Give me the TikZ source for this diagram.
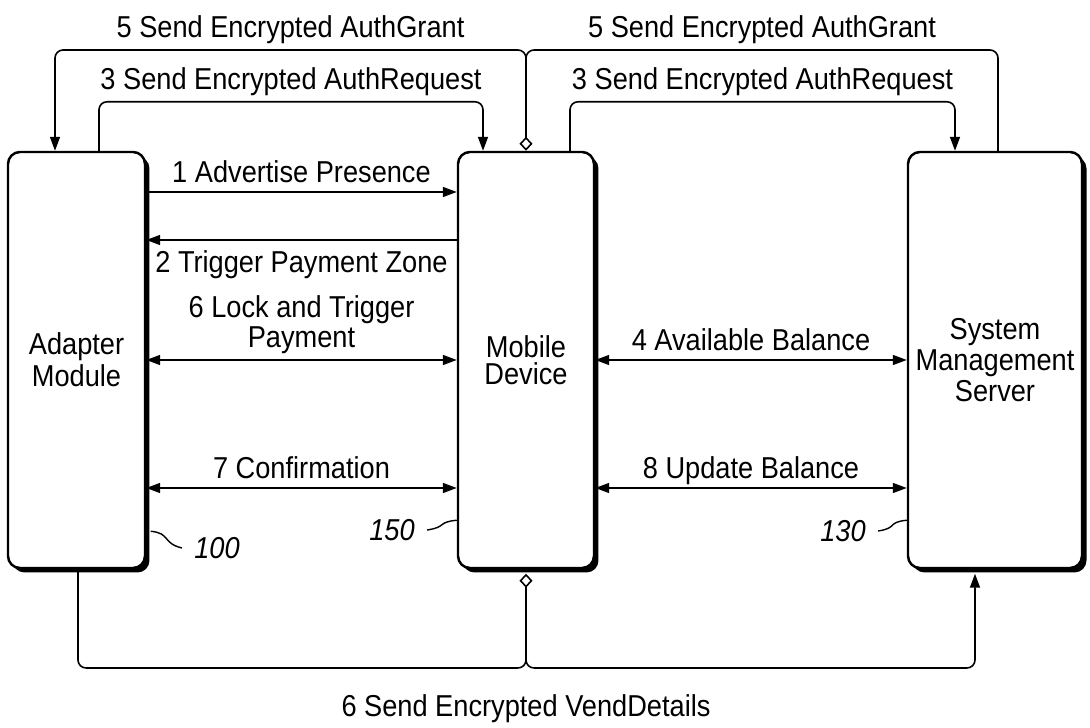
\documentclass[tikz,border=0pt]{standalone}
\usepackage{fontspec}
\setmainfont{Liberation Sans}[FakeStretch=0.9]
\usetikzlibrary{arrows.meta,shadows}

\begin{document}
\begin{tikzpicture}[
        unit/.style={rectangle, draw=black, line width=0.7pt, rounded corners=1.2mm, fill=white,
            align=center, inner sep=0pt, minimum height=41.6mm,
            drop shadow={shadow xshift=0.45mm, shadow yshift=-0.45mm, fill=black, opacity=1}},
        msg/.style={line width=0.45pt, rounded corners=0.8mm},
        lbl/.style={text height=1.55ex, text depth=0.3ex, inner ysep=0.3mm},
        toplbl/.style={lbl, inner ysep=0.6mm},
        tip/.style={-{Triangle[length=1.4mm,width=1mm]}},
        both/.style={{Triangle[length=1.4mm,width=1mm]}-{Triangle[length=1.4mm,width=1mm]}},
        src/.style={{Diamond[open,length=1.4mm,width=1.3mm]}-{Triangle[length=1.4mm,width=1mm]}},
        refnum/.style={font=\fontsize{8.6}{7.6}\selectfont\itshape},
        font=\fontsize{8.6}{7.6}\selectfont,
        ]
        \useasboundingbox (0,0) rectangle (10.9,-7.28);

        \node (adapter) at (0.765,-3.6) [unit, minimum width=13.7mm] {Adapter\\Module};
        \node (mobile) at (5.26,-3.6) [unit, minimum width=13.6mm] {Mobile\\Device};
        \node (server) at (9.95,-3.6) [unit, minimum width=17.4mm] {System\\Management\\Server};

        % adapter <-> mobile
        \draw[msg,tip] ([yshift=16.8mm]adapter.east) -- node[above,lbl] {1 Advertise Presence} ([yshift=16.8mm]mobile.west);
        \draw[msg,tip] ([yshift=12mm]mobile.west) -- node[below,lbl] {2 Trigger Payment Zone} ([yshift=12mm]adapter.east);
        \draw[msg,both] (adapter.east) -- node[above, align=center, inner ysep=0.5mm] {6 Lock and Trigger\\Payment} (mobile.west);
        \draw[msg,both] ([yshift=-12.8mm]adapter.east) -- node[above,lbl] {7 Confirmation} ([yshift=-12.8mm]mobile.west);

        % mobile <-> server
        \draw[msg,both] (mobile.east) -- node[above,lbl] {4 Available Balance} (server.west);
        \draw[msg,both] ([yshift=-12.8mm]mobile.east) -- node[above,lbl] {8 Update Balance} ([yshift=-12.8mm]server.west);

        % over the top
        \draw[msg,src] (mobile.north) -- (mobile.north |- 0,-0.5) -| node[pos=0.25, above, toplbl] {5 Send Encrypted AuthGrant} ([xshift=-2.15mm]adapter.north);
        \draw[msg] ([xshift=0.3mm]server.north) |- node[pos=0.75, above, toplbl] {5 Send Encrypted AuthGrant} (mobile.north |- 0,-0.5) -- (mobile.north |- 0,-0.65);
        \draw[msg,tip] ([xshift=2.25mm]adapter.north) -- ++(0,0.49) -| node[pos=0.25, above, toplbl] {3 Send Encrypted AuthRequest} ([xshift=-4.3mm]mobile.north);
        \draw[msg,tip] ([xshift=4.4mm]mobile.north) -- ++(0,0.49) -| node[pos=0.25, above, toplbl] {3 Send Encrypted AuthRequest} ([xshift=-4mm]server.north);

        % underneath
        \draw[msg] ([xshift=0.15mm]adapter.south) |- (mobile.south |- 0,-6.68) -- (mobile.south |- 0,-6.55);
        \draw[msg,src] ([yshift=-0.45mm]mobile.south) -- (mobile.south |- 0,-6.68) node[below=1.6mm, lbl] {6 Send Encrypted VendDetails} -| ([xshift=-2mm,yshift=-0.45mm]server.south);

        % reference numerals
        \node (ref100) at (2.17,-5.48) [refnum] {100};
        \node (ref150) at (3.92,-5.30) [refnum] {150};
        \node (ref130) at (8.43,-5.31) [refnum] {130};
        \draw[line width=0.4pt] ([xshift=0.45mm,yshift=3.8mm]adapter.south east) .. controls +(0.2,-0.02) and +(-0.2,0.05) .. (ref100.west);
        \draw[line width=0.4pt] (ref150.east) .. controls +(0.2,0.03) and +(-0.2,-0.02) .. ([yshift=4.9mm]mobile.south west);
        \draw[line width=0.4pt] (ref130.east) .. controls +(0.2,0.03) and +(-0.2,-0.02) .. ([yshift=4.9mm]server.south west);
    \end{tikzpicture}
\end{document}
